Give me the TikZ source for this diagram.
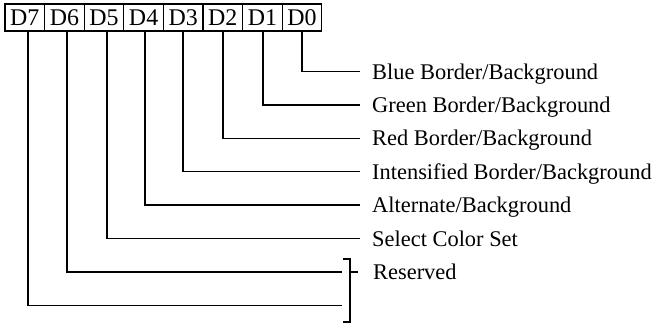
\documentclass[tikz,border=0pt]{standalone}
\usepackage{fontspec}
\setmainfont{Liberation Serif}
\begin{document}
\begin{tikzpicture}[x=1bp,y=-1bp,
  bitbox/.style={draw, line width=1.2bp, minimum width=39.6bp, minimum height=27bp, inner sep=0pt, font=\fontsize{24}{28}\selectfont},
  lbl/.style={anchor=base west, inner sep=0pt, font=\fontsize{22.5}{27}\selectfont},
  wire/.style={line width=1.5bp}]
\useasboundingbox (0,0) rectangle (660,323);
% bit boxes
\node[bitbox] (b7) at (24.8,17.5) {D7};
\node[bitbox] (b6) at (64.4,17.5) {D6};
\node[bitbox] (b5) at (104.0,17.5) {D5};
\node[bitbox] (b4) at (143.6,17.5) {D4};
\node[bitbox] (b3) at (183.2,17.5) {D3};
\node[bitbox] (b2) at (222.8,17.5) {D2};
\node[bitbox] (b1) at (262.4,17.5) {D1};
\node[bitbox] (b0) at (302.0,17.5) {D0};
% line end points
\coordinate (e0) at (360,71.5);
\coordinate (e1) at (360,104.9);
\coordinate (e2) at (360,138.3);
\coordinate (e3) at (360,171.7);
\coordinate (e4) at (360,205.1);
\coordinate (e5) at (360,238.5);
\coordinate (e6) at (342,271.9);
\coordinate (e7) at (342,305.3);
% labels
\node[lbl] (l0) at (372,79) {Blue Border/Background};
\node[lbl] (l1) at (372,112.4) {Green Border/Background};
\node[lbl] (l2) at (372,145.8) {Red Border/Background};
\node[lbl] (l3) at (372,179.2) {Intensified Border/Background};
\node[lbl] (l4) at (372,212.6) {Alternate/Background};
\node[lbl] (l5) at (372,246) {Select Color Set};
\node[lbl] (l6) at (373,279.4) {Reserved};
% connectors
\draw[wire] ([xshift=3.2bp]b7.south) |- (e7);
\draw[wire] ([xshift=2.6bp]b6.south) |- (e6);
\draw[wire] ([xshift=3bp]b5.south) |- (e5);
\draw[wire] ([xshift=1.4bp]b4.south) |- (e4);
\draw[wire] ([xshift=-0.2bp]b3.south) |- (e3);
\draw[wire] ([xshift=0.2bp]b2.south) |- (e2);
\draw[wire] ([xshift=0.6bp]b1.south) |- (e1);
\draw[wire] (b0.south) |- (e0);
% bracket for reserved bits
\coordinate (bt) at (343,259);
\coordinate (bb) at (343,322);
\coordinate (bm) at (350,271.9);
\draw[wire] (bt) -- ++(7,0) -- (350,322) -- (bb);
\draw[wire] (bm) -- ++(8,0);
\end{tikzpicture}
\end{document}
